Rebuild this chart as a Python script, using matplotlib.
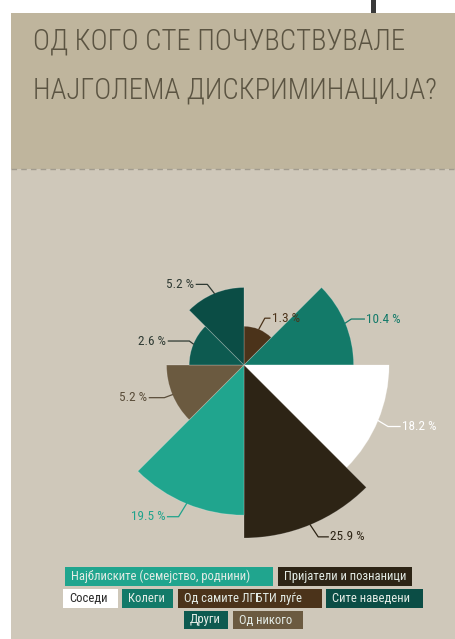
import numpy as np
import matplotlib
matplotlib.use('Agg')
import matplotlib.pyplot as plt
from matplotlib.patches import Rectangle
from matplotlib.lines import Line2D
from matplotlib.transforms import IdentityTransform
from matplotlib import font_manager

# ---------------- data ----------------
categories = ["Од самите ЛГБТИ луѓе", "Колеги", "Соседи", "Пријатели и познаници",
              "Најблиските (семејство, роднини)", "Од никого", "Други", "Сите наведени"]
values = [1.3, 10.4, 18.2, 25.9, 19.5, 5.2, 2.6, 5.2]
value_labels = ["1.3 %", "10.4 %", "18.2 %", "25.9 %", "19.5 %", "5.2 %", "2.6 %", "5.2 %"]
legend_order = ["Најблиските (семејство, роднини)", "Пријатели и познаници",
                "Соседи", "Колеги", "Од самите ЛГБТИ луѓе", "Сите наведени",
                "Други", "Од никого"]
title_lines = ["ОД КОГО СТЕ ПОЧУВСТВУВАЛЕ", "НАЈГОЛЕМА ДИСКРИМИНАЦИЈА?"]

# ---------------- style ----------------
installed = {f.name for f in font_manager.fontManager.ttflist}
fam = [f for f in ['Liberation Sans Narrow', 'Roboto Condensed', 'Open Sans Condensed',
                   'DejaVu Sans Condensed', 'Roboto', 'DejaVu Sans'] if f in installed]
plt.rcParams['font.family'] = fam
W, H = 456, 639
colors = {
    "Најблиските (семејство, роднини)": "#20a58e",
    "Пријатели и познаници": "#2d2415",
    "Соседи": "#ffffff",
    "Колеги": "#137a69",
    "Од самите ЛГБТИ луѓе": "#4b331a",
    "Сите наведени": "#0b4d45",
    "Други": "#0d5a50",
    "Од никого": "#6b5a40",
}
legend_text_colors = {"Соседи": "#2a2a2a"}
label_colors = ["#4b331a", "#137a69", "#ffffff", "#2d2415", "#1fa38c", "#5a4d3a", "#2e3a33", "#2f3a33"]

fig = plt.figure(figsize=(W / 100, H / 100), dpi=100)
fig.patch.set_facecolor('white')
ID = IdentityTransform()

def px(x, y):
    return (x, H - y)

# background panels (figure pixel coordinates)
fig.patches.append(Rectangle(px(11, 639), W - 11, 639 - 169, transform=ID,
                             facecolor='#cfc8ba', edgecolor='none', zorder=-2))
fig.patches.append(Rectangle(px(11, 169), W - 11, 169 - 13, transform=ID,
                             facecolor='#bfb59d', edgecolor='none', zorder=-2))
fig.lines.append(Line2D([11, W], [H - 169, H - 169], transform=ID, color='#a29c8f',
                        linestyle=(0, (4, 3)), linewidth=1.0, zorder=-1))
fig.patches.append(Rectangle(px(371, 13), 5, 13, transform=ID,
                             facecolor='#3a3a3a', edgecolor='none', zorder=-1))

# ---------------- polar area chart ----------------
cx, cy = 244, 365
R = 180
scale = 34.0
ax = fig.add_axes([(cx - R) / W, (H - cy - R) / H, 2 * R / W, 2 * R / H],
                  projection='polar')
ax.set_zorder(1)
ax.set_facecolor('none')
ax.patch.set_alpha(0)
ax.set_theta_zero_location('N')
ax.set_theta_direction(-1)
n = len(values)
width = 2 * np.pi / n
theta = np.arange(n) * width + width / 2
radii = np.sqrt(values)
ax.bar(theta, radii, width=width, bottom=0,
       color=[colors[c] for c in categories],
       edgecolor=(1, 1, 1, 0.25), linewidth=0.6)
ax.set_ylim(0, R / scale)
ax.set_axis_off()

# title (fit to the reference line widths)
title_texts = []
for line, yb in zip(title_lines, [50, 99]):
    t = fig.text(33 / W, (H - yb) / H, line, ha='left', va='baseline', fontsize=30,
                 fontweight='light', color='#5b5442', zorder=2)
    title_texts.append(t)
fig.canvas.draw()
r = fig.canvas.get_renderer()
targets = [379, 404]
f = min(tw / t.get_window_extent(r).width for t, tw in zip(title_texts, targets))
for t in title_texts:
    t.set_fontsize(30 * min(f, 1.0))

# leader lines and value labels: (elbow dx, dy in px, horizontal length, side)
leaders = [(6, 11, 5, 1), (6, 4, 13, 1), (10, -6, 12, 1), (8, -12, 10, 1),
           (-8, -13, 11, -1), (-8, -3, 15, -1), (-4, 3, 21, -1), (-7, 9, 11, -1)]
for i in range(n):
    ax_pt = ax.transData.transform((theta[i], radii[i]))
    dx, dy, hl, side = leaders[i]
    ex, ey = ax_pt[0] + dx, ax_pt[1] + dy
    tx = ex + side * hl
    fig.lines.append(Line2D([ax_pt[0], ex, tx], [ax_pt[1], ey, ey], transform=ID,
                            color=label_colors[i], linewidth=0.9, zorder=5))
    fig.text((tx + side * 2) / W, ey / H, value_labels[i],
             ha='left' if side > 0 else 'right', va='center',
             fontsize=9.5, color=label_colors[i], zorder=6)

# ---------------- legend ----------------
legend_boxes = [(65, 567, 273, 586), (278, 567, 412, 586),
                (63, 589, 118, 608), (122, 589, 173, 608), (178, 589, 322, 608), (326, 589, 423, 608),
                (184, 611, 228, 629), (233, 611, 303, 629)]
leg_texts = []
for name, (x0, y0, x1, y1) in zip(legend_order, legend_boxes):
    fig.patches.append(Rectangle(px(x0, y1), x1 - x0, y1 - y0, transform=ID,
                                 facecolor=colors[name], edgecolor='none', zorder=2))
    t = fig.text((x0 + 6) / W, (H - (y0 + y1) / 2) / H, name, ha='left', va='center',
                 fontsize=10, color=legend_text_colors.get(name, '#e4ece6'), zorder=3)
    leg_texts.append((t, x1 - x0 - 9))
fig.canvas.draw()
r = fig.canvas.get_renderer()
fl = min(1.0, min(tw / t.get_window_extent(r).width for t, tw in leg_texts),
         179 / leg_texts[0][0].get_window_extent(r).width)
for t, _ in leg_texts:
    t.set_fontsize(10 * fl)

fig.savefig('out.png', dpi=100)
